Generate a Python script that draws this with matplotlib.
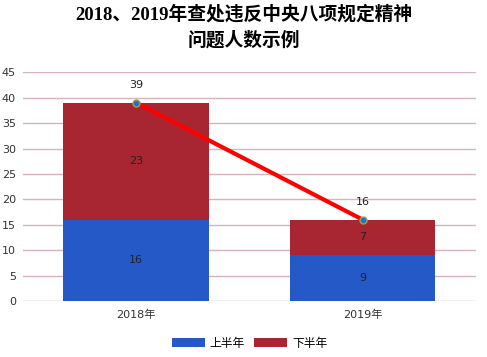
import numpy as np
import matplotlib.pyplot as plt

plt.rcParams['font.family'] = ['DejaVu Sans', 'Noto Sans CJK SC']

years = ['2018年', '2019年']
first_half = [16, 9]
second_half = [23, 7]
totals = [39, 16]
yticks = [0, 5, 10, 15, 20, 25, 30, 35, 40, 45]

blue = '#2659c8'
red = '#a82632'

fig = plt.figure(figsize=(4.87, 3.57), dpi=100)
ax = fig.add_axes([0.0472, 0.157, 0.93, 0.6405])

x = np.arange(len(years))
w = 0.643
ax.bar(x, first_half, w, color=blue, label='上半年', zorder=2)
ax.bar(x, second_half, w, bottom=first_half, color=red, label='下半年', zorder=2)
ax.plot(x, totals, color='#ff0000', lw=3, zorder=3)
ax.plot(x, totals, 'o', ms=5, mfc='#2e6bc4', mec='#9aa84a', mew=1, zorder=4)

for i in range(len(years)):
    ax.text(x[i], first_half[i] / 2, str(first_half[i]), ha='center', va='center',
            fontsize=8, color='#222222', zorder=5)
    ax.text(x[i], first_half[i] + second_half[i] / 2, str(second_half[i]),
            ha='center', va='center', fontsize=8, color='#222222', zorder=5)
    ax.annotate(str(totals[i]), (x[i], totals[i]), xytext=(0, 9),
                textcoords='offset points', ha='center', va='bottom',
                fontsize=8, color='#222222')

ax.set_xlim(-0.5, 1.5)
ax.set_ylim(0, 45)
ax.set_yticks(yticks)
ax.set_xticks(x)
ax.set_xticklabels(years)
ax.grid(axis='y', color='#d9b3bb', lw=1, zorder=0)
for s in ax.spines.values():
    s.set_visible(False)
ax.tick_params(length=0, labelsize=8, colors='#333333')
ax.tick_params(axis='y', pad=5)
ax.tick_params(axis='x', pad=6)

fig.text(0.5, 0.96, '2018、2019年查处违反中央八项规定精神', ha='center', va='center',
         fontsize=13.5, fontweight='bold', family=['Liberation Serif', 'Noto Sans CJK SC'])
fig.text(0.5, 0.888, '问题人数示例', ha='center', va='center',
         fontsize=13.5, fontweight='bold', family=['Liberation Serif', 'Noto Sans CJK SC'])

ax.legend(loc='center', bbox_to_anchor=(0.5, -0.185), ncol=2, frameon=False,
          fontsize=8.5, handlelength=2.8, handleheight=0.7, columnspacing=0.8,
          handletextpad=0.4)

fig.savefig('out.png', dpi=100)
